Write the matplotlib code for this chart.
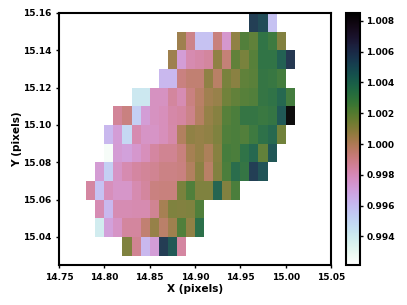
import numpy as np
import matplotlib
matplotlib.use("Agg")
import matplotlib.pyplot as plt

n = np.nan
x_edges = [14.78, 14.79, 14.80, 14.81, 14.82, 14.83, 14.84, 14.85, 14.86, 14.87, 14.88, 14.89,
           14.90, 14.91, 14.92, 14.93, 14.94, 14.95, 14.96, 14.97, 14.98, 14.99, 15.00, 15.01]
y_edges = [15.16, 15.15, 15.14, 15.13, 15.12, 15.11, 15.10, 15.09, 15.08, 15.07, 15.06, 15.05, 15.04, 15.03]

row0 = [n]*18 + [1.0055, 1.0050, .9958, n, n]
row1 = [n]*10 + [1.0005, .9990, .9958, .9958, .9993, .9975, 1.0008, 1.0022, 1.0019, 1.0032, 1.0028, 1.0011, n]
row2 = [n]*9 + [1.0005, .9972, .9982, .9984, .9986, 1.0008, .9994, 1.0018, 1.0013, 1.0021, 1.0032, 1.0032, 1.0042, 1.0058]
row3 = [n]*8 + [.9962, .9962, .9992, .9995, .9995, 1.0008, .9998, 1.0013, 1.0009, 1.0019, 1.0020, 1.0031, 1.0030, 1.0026, n]
row4 = [n]*5 + [.9942, .9942, .9978, .9978, .9986, .9981, .9992, .9998, 1.0004, 1.0006, 1.0015, 1.0018, 1.0021, 1.0022, 1.0031, 1.0033, 1.0039, 1.0026]
row5 = [n]*3 + [.9987, .9992, .9953, .9972, .9978, .9979, .9984, .9985, .9990, .9999, 1.0007, 1.0010, 1.0021, 1.0024, 1.0031, 1.0031, 1.0029, 1.0031, 1.0045, 1.0085]
row6 = [n]*2 + [.9962, .9972, .9950, .9982, .9977, .9977, .9979, .9983, 1.0000, 1.0008, 1.0007, 1.0008, 1.0012, 1.0023, 1.0024, 1.0022, 1.0028, 1.0034, 1.0038, 1.0015, n]
row7 = [n]*2 + [.9925, .9973, .9971, .9975, .9979, .9985, .9988, .9988, .9993, 1.0003, 1.0007, 1.0001, 1.0010, 1.0025, 1.0024, 1.0033, 1.0039, 1.0018, 1.0046, n, n]
row8 = [n] + [.9973, .9953, .9977, .9982, .9985, .9987, .9988, .9991, .9991, .9992, 1.0000, 1.0009, .9998, 1.0011, 1.0024, 1.0036, 1.0031, 1.0055, 1.0047, n, n, n]
row9 = [.9985, .9958, .9979, .9976, .9976, .9982, .9986, .9992, .9993, .9993, 1.0013, 1.0023, 1.0012, 1.0012, 1.0040, 1.0011, 1.0024] + [n]*6
row10 = [n] + [.9981, .9962, .9981, .9981, .9982, .9982, .9988, 1.0003, 1.0012, 1.0011, 1.0012, 1.0023] + [n]*10
row11 = [n] + [.9940, .9971, .9977, .9986, .9986, .9995, 1.0007, .9997, 1.0005, 1.0023, 1.0008, 1.0035] + [n]*10
row12 = [n]*4 + [1.0012, .9988, .9962, .9972, 1.0056, 1.0045, .9985] + [n]*12
values = [row0, row1, row2, row3, row4, row5, row6, row7, row8, row9, row10, row11, row12]

x_ticks = [14.75, 14.80, 14.85, 14.90, 14.95, 15.00, 15.05]
y_ticks = [15.04, 15.06, 15.08, 15.10, 15.12, 15.14, 15.16]
cbar_ticks = [0.994, 0.996, 0.998, 1.000, 1.002, 1.004, 1.006, 1.008]

plt.rcParams.update({"font.family": "DejaVu Sans", "font.weight": "bold", "font.size": 6.5})
W, H = 407, 305
fig = plt.figure(figsize=(W/100, H/100), dpi=100)
ax = fig.add_axes([59/W, 1-265/H, (331-59)/W, (265-13)/H])
cax = fig.add_axes([346/W, 1-265/H, 13.5/W, (265-13)/H])

mesh = ax.pcolormesh(x_edges, y_edges, np.ma.masked_invalid(np.array(values, dtype=float)),
                     cmap="cubehelix_r", vmin=0.99215, vmax=1.0085, alpha=0.95, linewidth=0)
ax.set_xlim(14.75, 15.05)
ax.set_ylim(15.025, 15.16)
ax.set_xticks(x_ticks)
ax.set_xticklabels([f"{v:.2f}" for v in x_ticks], fontweight="bold", fontsize=6.5)
ax.set_yticks(y_ticks)
ax.set_yticklabels([f"{v:.2f}" for v in y_ticks], fontweight="bold", fontsize=6.5)
ax.set_xlabel("X (pixels)", fontweight="bold", fontsize=7.6, labelpad=1.5)
ax.set_ylabel("Y (pixels)", fontweight="bold", fontsize=7.6, labelpad=0.5)
ax.tick_params(width=1.0, length=2.5, pad=3)
for s in ax.spines.values():
    s.set_linewidth(1.5)

sm = matplotlib.cm.ScalarMappable(norm=mesh.norm, cmap="cubehelix_r")
cb = fig.colorbar(sm, cax=cax, ticks=cbar_ticks)
cb.ax.set_yticklabels([f"{v:.3f}" for v in cbar_ticks], fontweight="bold", fontsize=6.5)
cb.ax.tick_params(width=1.0, length=2.5, pad=2.5)
cb.outline.set_linewidth(1.5)

fig.savefig("out.png", dpi=100)
